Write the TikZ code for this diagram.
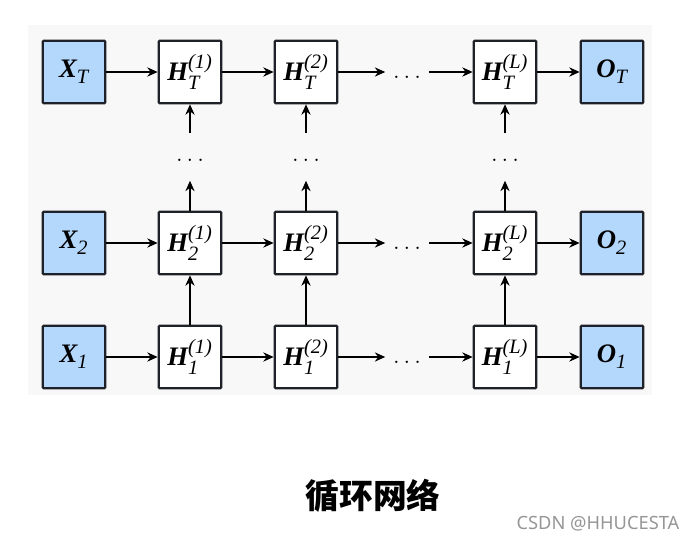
\documentclass[tikz,border=0pt]{standalone}
\usepackage{amsmath}
\usepackage{fontspec}
\setmainfont{Liberation Serif}
\setsansfont{Noto Sans}
\newfontfamily\cjk{Noto Sans CJK SC}
\DeclareMathSizes{19}{19}{14.5}{11}
\usepackage{tikz}
\usetikzlibrary{arrows.meta,shapes,positioning}
\usepackage{xcolor}
\definecolor{rnnblue}{RGB}{180,215,252}
\definecolor{rnnedge}{RGB}{30,34,40}
\definecolor{rnnback}{RGB}{248,248,248}
\definecolor{rnnmark}{RGB}{150,150,150}
\newcommand{\hid}[2]{$\text{\bfseries\itshape H}^{\textit{(#2)}}_{\raisebox{-2.5pt}{$\scriptstyle\textit{#1}$}}$}
\newcommand{\vin}[2]{$\text{\bfseries\itshape #1}_{\raisebox{-1.5pt}{$\scriptstyle\textit{#2}$}}$}
\tikzstyle{arrow} = [line width=1.6pt,-{Stealth[length=2.6mm,width=2.3mm]},color=black]

\begin{document}
\begin{tikzpicture}[
    x=0.25mm, y=-0.25mm,
    every node/.style={font=\fontsize{19}{22}\selectfont},
    box/.style={rectangle, rounded corners=0.6pt, draw=rnnedge, line width=1.6pt, fill=white, minimum width=15.6mm, minimum height=15.6mm, inner sep=0pt, align=center},
    io/.style={box, fill=rnnblue},
    hdots/.style={minimum width=10.75mm, inner sep=0pt, text height=9pt, text depth=0pt},
    vdots/.style={minimum height=11.75mm, inner sep=0pt, text height=7pt, text depth=0pt}
]
\useasboundingbox (0,0) rectangle (700,536);
\fill[rnnback] (28,25) rectangle (652,395);

% Inputs (left)
\node[io] (xT) at (74,72) {\vin{X}{T}};
\node[io] (x2) at (74,243) {\vin{X}{2}};
\node[io] (x1) at (74,357) {\vin{X}{1}};

% Layer 1
\node[box] (hT1) at (190,72) {\hid{T}{1}};
\node[box] (h21) at (190,243) {\hid{2}{1}};
\node[box] (h11) at (190,357) {\hid{1}{1}};

% Layer 2
\node[box] (hT2) at (306,72) {\hid{T}{2}};
\node[box] (h22) at (306,243) {\hid{2}{2}};
\node[box] (h12) at (306,357) {\hid{1}{2}};

% Layer L
\node[box] (hTL) at (505,72) {\hid{T}{L}};
\node[box] (h2L) at (505,243) {\hid{2}{L}};
\node[box] (h1L) at (505,357) {\hid{1}{L}};

% Outputs (right)
\node[io] (oT) at (612,72) {\vin{O}{T}};
\node[io] (o2) at (612,243) {\vin{O}{2}};
\node[io] (o1) at (612,357) {\vin{O}{1}};

% Dots
\node[hdots] (hdT) at (407,72) {$\ldots$};
\node[hdots] (hd2) at (407,243) {$\ldots$};
\node[hdots] (hd1) at (407,357) {$\ldots$};
\node[vdots] (vd1) at (190,157) {$\ldots$};
\node[vdots] (vd2) at (306,157) {$\ldots$};
\node[vdots] (vdL) at (505,157) {$\ldots$};

% Arrows along time
\draw[arrow] (xT) -- (hT1);
\draw[arrow] (hT1) -- (hT2);
\draw[arrow] (hT2) -- (hdT);
\draw[arrow] (hdT) -- (hTL);
\draw[arrow] (hTL) -- (oT);
\draw[arrow] (x2) -- (h21);
\draw[arrow] (h21) -- (h22);
\draw[arrow] (h22) -- (hd2);
\draw[arrow] (hd2) -- (h2L);
\draw[arrow] (h2L) -- (o2);
\draw[arrow] (x1) -- (h11);
\draw[arrow] (h11) -- (h12);
\draw[arrow] (h12) -- (hd1);
\draw[arrow] (hd1) -- (h1L);
\draw[arrow] (h1L) -- (o1);

% Arrows between layers
\draw[arrow] (h11) -- (h21);
\draw[arrow] (h12) -- (h22);
\draw[arrow] (h1L) -- (h2L);
\draw[arrow] (h21) -- (vd1);
\draw[arrow] (h22) -- (vd2);
\draw[arrow] (h2L) -- (vdL);
\draw[arrow] (vd1) -- (hT1);
\draw[arrow] (vd2) -- (hT2);
\draw[arrow] (vdL) -- (hTL);

% Caption
\node (title) at (373,496) {\fontsize{24}{28}\selectfont\cjk\bfseries 循环网络};
\node[text=rnnmark] (mark) at (598,524) {\fontsize{13}{15}\selectfont\sffamily CSDN @HHUCESTA};

\end{tikzpicture}
\end{document}
